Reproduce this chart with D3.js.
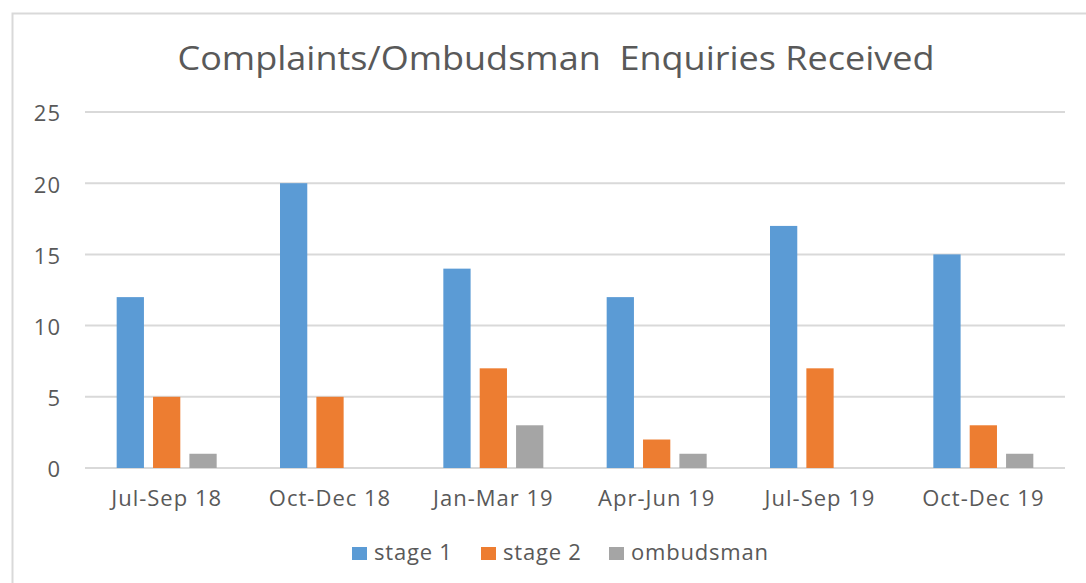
<!DOCTYPE html>
<html>
<head>
    <title>Complaints/Ombudsman Enquiries Received</title>
    <script src="https://d3js.org/d3.v7.min.js"></script>
    <style>
        body { margin: 0; background: #fff; font-family: "Open Sans", sans-serif; }
    </style>
</head>
<body>
    <div id="chart"></div>
    <script>
        const categories = ["Jul-Sep 18", "Oct-Dec 18", "Jan-Mar 19", "Apr-Jun 19", "Jul-Sep 19", "Oct-Dec 19"];
        const seriesNames = ["stage 1", "stage 2", "ombudsman"];
        const stage1 = [12, 20, 14, 12, 17, 15];
        const stage2 = [5, 5, 7, 2, 7, 3];
        const ombudsman = [1, 0, 3, 1, 0, 1];
        const yTicks = [0, 5, 10, 15, 20, 25];
        const colors = ["#5B9BD5", "#ED7D31", "#A5A5A5"];

        const W = 1086, H = 583;
        const margin = { top: 112, right: 21, bottom: 115, left: 85 };
        const width = W - margin.left - margin.right;
        const height = H - margin.top - margin.bottom;

        const svgRoot = d3.select("#chart").append("svg")
            .attr("width", W)
            .attr("height", H);

        // chart area border
        svgRoot.append("rect")
            .attr("x", 12.5).attr("y", 13.5)
            .attr("width", W).attr("height", H)
            .attr("fill", "none")
            .attr("stroke", "#D9D9D9")
            .attr("stroke-width", 2);

        const title = svgRoot.append("text")
            .attr("x", 556)
            .attr("y", 70)
            .attr("text-anchor", "middle")
            .attr("fill", "#595959")
            .style("font-size", "32px")
            .style("white-space", "pre")
            .text("Complaints/Ombudsman  Enquiries Received");
        // stretch title to the reference width
        title.attr("textLength", 757).attr("lengthAdjust", "spacingAndGlyphs");

        const svg = svgRoot.append("g")
            .attr("transform", "translate(" + margin.left + "," + margin.top + ")");

        const x = d3.scaleBand()
            .domain(categories)
            .range([0, width])
            .paddingInner(0)
            .paddingOuter(0);

        const y = d3.scaleLinear()
            .domain([0, 25])
            .range([height, 0]);

        const xs = d3.scaleBand()
            .domain(seriesNames)
            .range([x.bandwidth() / 2 - 50, x.bandwidth() / 2 + 50])
            .paddingInner(0.25);

        // gridlines
        svg.append("g")
            .selectAll("line")
            .data(yTicks)
            .enter().append("line")
            .attr("x1", 0).attr("x2", width)
            .attr("y1", d => y(d)).attr("y2", d => y(d))
            .attr("stroke", "#D9D9D9")
            .attr("stroke-width", 2);

        // y axis labels
        const yAxis = svg.append("g")
            .call(d3.axisLeft(y).tickValues(yTicks).tickSize(0).tickPadding(24));
        yAxis.select(".domain").remove();
        yAxis.selectAll("text")
            .attr("fill", "#595959")
            .attr("dy", "0.4em")
            .style("font-size", "22px")
            .style("letter-spacing", "1px")
            .style("font-family", "'Open Sans', sans-serif");

        // x axis labels
        const xAxis = svg.append("g")
            .attr("transform", "translate(0," + height + ")")
            .call(d3.axisBottom(x).tickSize(0).tickPadding(22));
        xAxis.select(".domain").remove();
        xAxis.selectAll("text")
            .attr("fill", "#595959")
            .style("font-size", "22px")
            .style("letter-spacing", "1px")
            .style("font-family", "'Open Sans', sans-serif");

        const seriesData = [stage1, stage2, ombudsman];
        const groups = svg.selectAll(".group")
            .data(categories)
            .enter().append("g")
            .attr("class", "group")
            .attr("transform", d => "translate(" + x(d) + ",0)");

        groups.selectAll("rect")
            .data((d, i) => seriesNames.map((s, j) => ({ s: s, v: seriesData[j][i], c: colors[j] })))
            .enter().append("rect")
            .attr("x", d => xs(d.s))
            .attr("width", xs.bandwidth())
            .attr("y", d => y(d.v))
            .attr("height", d => height - y(d.v))
            .attr("fill", d => d.c);

        // legend
        const legendX = [352, 481, 609];
        const legend = svgRoot.append("g");
        seriesNames.forEach((s, i) => {
            legend.append("rect")
                .attr("x", legendX[i]).attr("y", 547)
                .attr("width", 15).attr("height", 13)
                .attr("fill", colors[i]);
            legend.append("text")
                .attr("x", legendX[i] + 22).attr("y", 560)
                .attr("fill", "#595959")
                .style("font-size", "22px")
                .style("letter-spacing", "0.8px")
                .text(s);
        });
    </script>
</body>
</html>
